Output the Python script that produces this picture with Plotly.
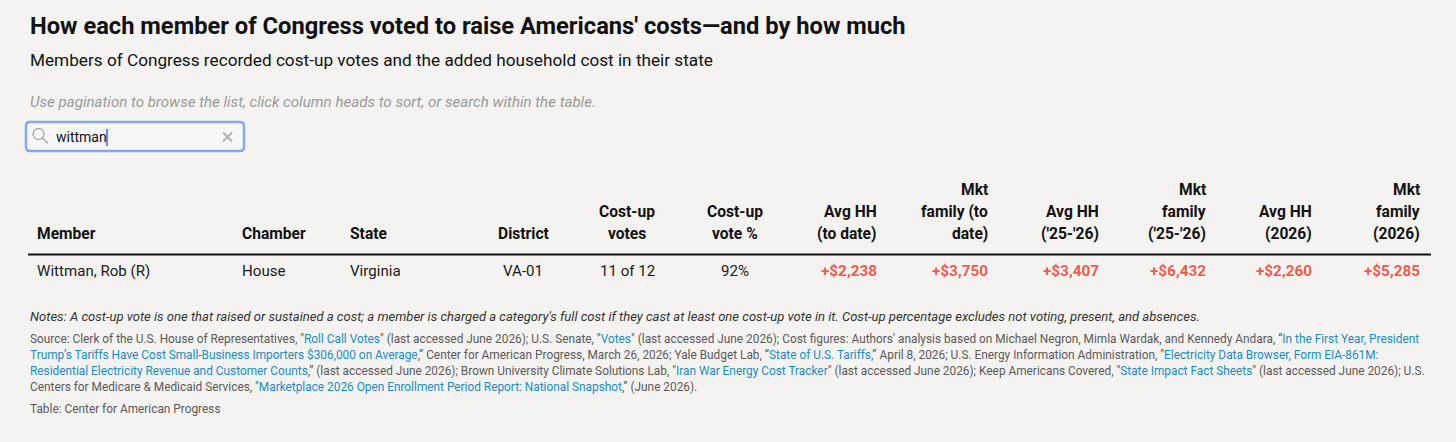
import plotly.graph_objects as go

W, H = 1456, 442
BG = "#f4f3f1"
FONT = "Roboto"

title = "How each member of Congress voted to raise Americans' costs\u2014and by how much"
subtitle = "Members of Congress recorded cost-up votes and the added household cost in their state"
instruction = "Use pagination to browse the list, click column heads to sort, or search within the table."
search_text = "wittman"

headers = ["Member", "Chamber", "State", "District", "Cost-up<br>votes", "Cost-up<br>vote %",
           "Avg HH<br>(to date)", "Mkt<br>family (to<br>date)", "Avg HH<br>('25-'26)",
           "Mkt<br>family<br>('25-'26)", "Avg HH<br>(2026)", "Mkt<br>family<br>(2026)"]
member = ["Wittman, Rob (R)"]
chamber = ["House"]
state = ["Virginia"]
district = ["VA-01"]
votes = ["11 of 12"]
vote_pct = [92]
avg_hh_to_date = [2238]
mkt_family_to_date = [3750]
avg_hh_25_26 = [3407]
mkt_family_25_26 = [6432]
avg_hh_2026 = [2260]
mkt_family_2026 = [5285]

notes = ("Notes: A cost-up vote is one that raised or sustained a cost; a member is charged a category's full cost "
         "if they cast at least one cost-up vote in it. Cost-up percentage excludes not voting, present, and absences.")
LINK = "#1a8cc4"
GRAY = "#5a5a5a"
def L(t):
    return f'<span style="color:{LINK}">{t}</span>'
source_lines = [
    'Source: Clerk of the U.S. House of Representatives, "' + L("Roll Call Votes") + '" (last accessed June 2026); U.S. Senate, "'
    + L("Votes") + '" (last accessed June 2026); Cost figures: Authors\' analysis based on Michael Negron, Mimla Wardak, and Kennedy Andara, \u201c'
    + L("In the First Year, President"),
    L("Trump\u2019s Tariffs Have Cost Small-Business Importers $306,000 on Average") + ',\u201d Center for American Progress, March 26, 2026; Yale Budget Lab, \u201c'
    + L("State of U.S. Tariffs") + ',\u201d April 8, 2026; U.S. Energy Information Administration, "' + L("Electricity Data Browser, Form EIA-861M:"),
    L("Residential Electricity Revenue and Customer Counts") + ',\u201d (last accessed June 2026); Brown University Climate Solutions Lab, "'
    + L("Iran War Energy Cost Tracker") + '" (last accessed June 2026); Keep Americans Covered, "' + L("State Impact Fact Sheets")
    + '" (last accessed June 2026); U.S.',
    'Centers for Medicare &amp; Medicaid Services, "' + L("Marketplace 2026 Open Enrollment Period Report: National Snapshot") + ',\u201d (June 2026).',
]
credit = "Table: Center for American Progress"

# ---- layout of columns (pixel positions) ----
col_x = [35, 240, 348, 523, 627, 735, 879, 990, 1101, 1208, 1314, 1422]
col_anchor = ["left", "left", "left", "center", "center", "center",
              "right", "right", "right", "right", "right", "right"]

def money(v):
    return f"+${v:,}"

rows = []
for i in range(len(member)):
    rows.append([member[i], chamber[i], state[i], district[i], votes[i], f"{vote_pct[i]}%",
                 money(avg_hh_to_date[i]), money(mkt_family_to_date[i]), money(avg_hh_25_26[i]),
                 money(mkt_family_25_26[i]), money(avg_hh_2026[i]), money(mkt_family_2026[i])])
red_cols = {6, 7, 8, 9, 10, 11}

fig = go.Figure()
fig.add_trace(go.Scatter(x=[0, W], y=[0, H], mode="markers", marker=dict(opacity=0), hoverinfo="skip", showlegend=False))

ann = []
def add(text, x, y, size, color="#111", anchor="left", bold=False, italic=False):
    ann.append(dict(text=(f"<b>{text}</b>" if bold else text), x=x, y=y, xref="x", yref="y",
                    xanchor=anchor, yanchor="middle", showarrow=False, align=anchor if anchor != "center" else "center",
                    font=dict(family=FONT, size=size, color=color, style="italic" if italic else "normal")))

add(title, 28, 26, 23.7, "#111", bold=True)
add(subtitle, 28, 60, 17.2, "#111")
add(instruction, 28, 102, 15.1, "#9a9a9a", italic=True)
add(search_text, 54, 137, 14, "#111")

# headers: bottom line at y=234, line step 22
HEAD_BOTTOM, STEP = 234, 22
for j, h in enumerate(headers):
    parts = h.split("<br>")
    n = len(parts)
    for k, p in enumerate(parts):
        add(p, col_x[j], HEAD_BOTTOM - (n - 1 - k) * STEP, 15.6, "#111", anchor=col_anchor[j], bold=True)

ROW_Y0, ROW_STEP = 271, 32
for r, row in enumerate(rows):
    for j, v in enumerate(row):
        if j in red_cols:
            add(f"<b>{v}</b>", col_x[j], ROW_Y0 + r * ROW_STEP, 15.3, "#ef5b4f", anchor=col_anchor[j])
        else:
            add(v, col_x[j], ROW_Y0 + r * ROW_STEP, 15.1, "#1a1a1a", anchor=col_anchor[j])

add(notes, 28, 316, 13.05, "#333", italic=True)
for k, s in enumerate(source_lines):
    add(s, 28, 339 + k * 16, 11.85, GRAY)
add(credit, 28, 409, 11.85, GRAY)

shapes = []
# rule under header
shapes.append(dict(type="line", xref="x", yref="y", x0=28, x1=1431, y0=254.5, y1=254.5,
                   line=dict(color="#111", width=2)))
# search box (rounded rect)
x0, x1, y0, y1, rr = 26, 244, 122, 151, 4
path = (f"M {x0+rr},{y0} L {x1-rr},{y0} Q {x1},{y0} {x1},{y0+rr} L {x1},{y1-rr} Q {x1},{y1} {x1-rr},{y1} "
        f"L {x0+rr},{y1} Q {x0},{y1} {x0},{y1-rr} L {x0},{y0+rr} Q {x0},{y0} {x0+rr},{y0} Z")
shapes.append(dict(type="path", path=path, xref="x", yref="y", fillcolor="#f6f6f7",
                   line=dict(color="#86a9ec", width=2.5)))
# magnifier
shapes.append(dict(type="circle", xref="x", yref="y", x0=33, x1=44, y0=128.5, y1=139.5,
                   line=dict(color="#a8a8a8", width=1.3)))
shapes.append(dict(type="line", xref="x", yref="y", x0=42.5, x1=48, y0=138, y1=143.5,
                   line=dict(color="#a8a8a8", width=1.5)))
# clear x
shapes.append(dict(type="line", xref="x", yref="y", x0=223, x1=232, y0=132.5, y1=141.5, line=dict(color="#b0b0b0", width=2)))
shapes.append(dict(type="line", xref="x", yref="y", x0=223, x1=232, y0=141.5, y1=132.5, line=dict(color="#b0b0b0", width=2)))
# cursor
shapes.append(dict(type="line", xref="x", yref="y", x0=107, x1=107, y0=129, y1=146, line=dict(color="#2a6fd6", width=1.5)))

fig.update_layout(
    width=W, height=H, margin=dict(l=0, r=0, t=0, b=0),
    paper_bgcolor=BG, plot_bgcolor=BG,
    xaxis=dict(range=[0, W], visible=False, fixedrange=True),
    yaxis=dict(range=[H, 0], visible=False, fixedrange=True),
    annotations=ann, shapes=shapes, showlegend=False,
)
fig.write_html("out.html", config={"displayModeBar": False},
               post_script=f"document.body.style.margin='0';document.body.style.background='{BG}';document.body.style.overflow='hidden';")
